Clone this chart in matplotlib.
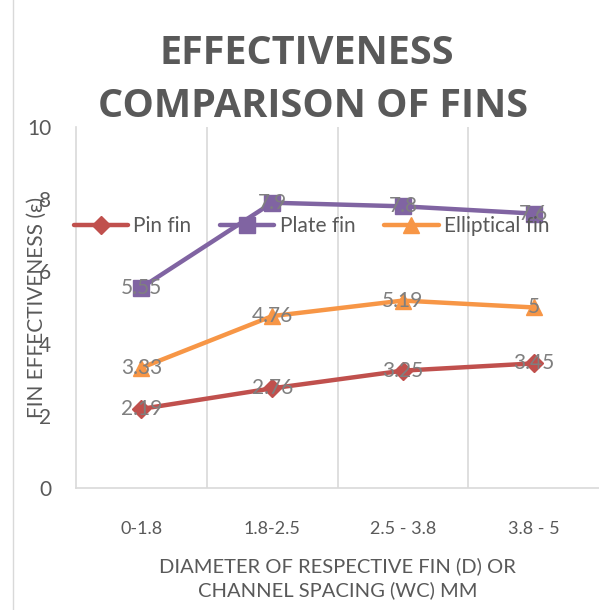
import matplotlib
matplotlib.use("Agg")
import matplotlib.pyplot as plt
import numpy as np

categories = ["0-1.8", "1.8-2.5", "2.5 - 3.8", "3.8 - 5"]
pin_fin = [2.19, 2.76, 3.25, 3.45]
plate_fin = [5.55, 7.9, 7.8, 7.6]
elliptical_fin = [3.33, 4.76, 5.19, 5]
y_ticks = [0, 2, 4, 6, 8, 10]

plt.rcParams['font.family'] = ['Lato', 'DejaVu Sans']
grey = '#595959'
label_grey = '#7f7f7f'

fig = plt.figure(figsize=(5.99, 6.10), dpi=100)
ax = fig.add_axes([0.127, 0.2, 0.873, 0.592])

x = np.arange(len(categories))
series = [
    ("Pin fin", pin_fin, '#C0504D', 'D', 9),
    ("Plate fin", plate_fin, '#8064A2', 's', 11),
    ("Elliptical fin", elliptical_fin, '#F79646', '^', 12),
]
for name, vals, col, mk, ms in series:
    ax.plot(x, vals, color=col, lw=3.2, marker=mk, ms=ms, label=name, solid_capstyle='round')
    for xi, v in zip(x, vals):
        ax.text(xi, v, f"{v:g}", ha='center', va='center', fontsize=15, color=label_grey, zorder=5)

ax.set_xlim(-0.5, len(categories) - 0.5)
ax.set_ylim(0, 10)
ax.set_yticks(y_ticks)
ax.set_xticks(x)
ax.set_xticklabels(categories, fontsize=13, color=grey)
ax.tick_params(axis='y', labelsize=15, labelcolor=grey, length=0, pad=18)
ax.tick_params(axis='x', length=0, pad=24)

for xv in np.arange(0.5, len(categories) - 0.5, 1):
    ax.axvline(xv, color='#d9d9d9', lw=1.2, zorder=0)
for s in ['top', 'right']:
    ax.spines[s].set_visible(False)
for s in ['left', 'bottom']:
    ax.spines[s].set_color('#d9d9d9')
    ax.spines[s].set_linewidth(1.2)

ax.set_ylabel("FIN EFFECTIVENESS (ε)", fontsize=15, color=grey)
ax.yaxis.set_label_coords(-0.056, 0.5)
ax.set_xlabel("DIAMETER OF RESPECTIVE FIN (D) OR\nCHANNEL SPACING (WC) MM", fontsize=14.5,
              color=grey, labelpad=14, linespacing=1.45)

leg = ax.legend(loc='center', bbox_to_anchor=(0.45, 0.725), ncol=3, frameon=False,
                fontsize=15, labelcolor=grey, handlelength=2.6, columnspacing=1.4,
                handletextpad=0.25, borderaxespad=0)

title_font = dict(family=['Open Sans', 'DejaVu Sans'], fontsize=28.5, fontweight='bold', color=grey)
fig.text(0.513, 0.913, "EFFECTIVENESS", ha='center', va='center', **title_font)
fig.text(0.523, 0.826, "COMPARISON OF FINS", ha='center', va='center', **title_font)

fig.add_artist(plt.Line2D([0.022, 0.022], [0, 1], transform=fig.transFigure, color='#d9d9d9', lw=1))

fig.savefig("out.png", dpi=100)
